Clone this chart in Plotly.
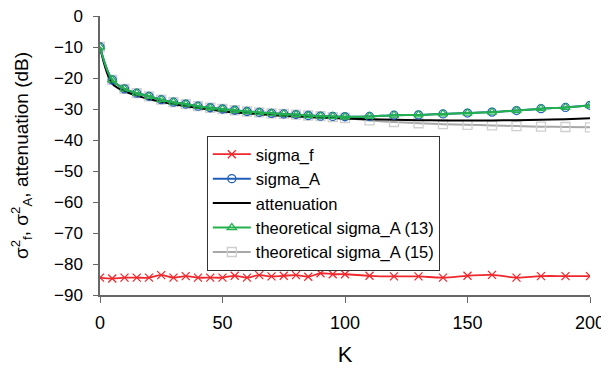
import plotly.graph_objects as go

K = [0, 5, 10, 15, 20, 25, 30, 35, 40, 45, 50, 55, 60, 65, 70, 75, 80, 85, 90, 95, 100,
     110, 120, 130, 140, 150, 160, 170, 180, 190, 200]

sigma_f = [-84.4, -84.7, -84.4, -84.4, -84.4, -83.6, -84.4, -83.9, -84.4, -84.4, -84.4,
           -83.8, -84.4, -83.6, -84.0, -83.8, -83.6, -84.1, -83.0, -83.3, -83.3,
           -83.8, -84.0, -84.0, -84.4, -83.8, -83.5, -84.4, -83.9, -83.9, -83.9]

sigma_A = [-10.0, -20.6, -23.5, -24.9, -25.9, -27.0, -27.8, -28.4, -29.1, -29.6, -30.0,
           -30.4, -30.8, -31.1, -31.4, -31.6, -31.8, -32.1, -32.3, -32.4, -32.5,
           -32.4, -32.0, -31.9, -31.6, -31.3, -31.0, -30.5, -29.9, -29.5, -28.8]

attenuation = [-10.0, -21.8, -24.2, -25.7, -26.8, -27.7, -28.5, -29.1, -29.7, -30.2, -30.7,
               -31.1, -31.4, -31.7, -32.0, -32.2, -32.4, -32.6, -32.8, -32.9, -33.1,
               -33.3, -33.5, -33.6, -33.7, -33.7, -33.7, -33.6, -33.5, -33.3, -33.0]

theo13 = [-10.0, -20.6, -23.5, -24.9, -25.9, -27.0, -27.8, -28.4, -29.1, -29.6, -30.0,
          -30.4, -30.8, -31.1, -31.4, -31.6, -31.8, -32.1, -32.3, -32.4, -32.5,
          -32.4, -32.0, -31.9, -31.6, -31.3, -31.0, -30.5, -29.9, -29.5, -28.9]

theo15 = [-10.0, -20.6, -23.5, -24.9, -25.9, -27.0, -27.8, -28.4, -29.1, -29.6, -30.0,
          -30.4, -30.8, -31.1, -31.4, -31.6, -31.8, -32.1, -32.3, -32.6, -32.9,
          -33.7, -34.2, -34.6, -34.9, -35.1, -35.3, -35.5, -35.7, -35.8, -35.9]

FONT = "Liberation Sans, Arial, sans-serif"

fig = go.Figure()

fig.add_trace(go.Scatter(x=K, y=sigma_f, name="sigma_f", mode="lines+markers",
                         line=dict(color="#f0282d", width=1.8, shape="spline"),
                         marker=dict(symbol="x-thin", size=8, line=dict(color="#f0282d", width=1.3)),
                         legendrank=1))
fig.add_trace(go.Scatter(x=K, y=theo15, name="theoretical sigma_A (15)", mode="lines+markers",
                         line=dict(color="#a8a8a8", width=2, shape="spline"),
                         marker=dict(symbol="square-open", size=9, color="#cfcfcf", line=dict(width=1.3)),
                         legendrank=5))
fig.add_trace(go.Scatter(x=K, y=attenuation, name="attenuation", mode="lines",
                         line=dict(color="#000000", width=2, shape="spline"),
                         legendrank=3))
fig.add_trace(go.Scatter(x=K, y=sigma_A, name="sigma_A", mode="lines+markers",
                         line=dict(color="#1f5fb8", width=2, shape="spline"),
                         marker=dict(symbol="circle-open", size=8, color="#1f5fb8", line=dict(width=1.3)),
                         legendrank=2))
fig.add_trace(go.Scatter(x=K, y=theo13, name="theoretical sigma_A (13)", mode="lines+markers",
                         line=dict(color="#22b14c", width=2, shape="spline"),
                         marker=dict(symbol="triangle-up-open", size=8, color="#22b14c", line=dict(width=1.3)),
                         legendrank=4))

# The page is shown with an 8px body margin, so the figure is sized/offset to compensate.
fig.update_layout(
    width=601, height=359,
    margin=dict(l=92, r=19, t=8, b=72, autoexpand=False),
    paper_bgcolor="white", plot_bgcolor="white",
    font=dict(family=FONT, size=18, color="black"),
    showlegend=True,
    legend=dict(x=0.218, y=0.570, xanchor="left", yanchor="top",
                bordercolor="#333333", borderwidth=1, bgcolor="white",
                font=dict(size=16.5), itemwidth=38, tracegroupgap=0),
    xaxis=dict(range=[0, 200], tickvals=[0, 50, 100, 150, 200], ticks="outside", ticklen=6,
               tickcolor="#666666", showline=True, linecolor="#666666", linewidth=1.5,
               showgrid=False, zeroline=False, automargin=False,
               title=dict(text="K", standoff=15), ticklabelstandoff=5,
               ticklabeloverflow="allow", tickfont=dict(size=18)),
    yaxis=dict(range=[-90, 0], tickvals=[0, -10, -20, -30, -40, -50, -60, -70, -80, -90],
               ticks="outside", ticklen=5, tickcolor="#666666", showline=True,
               linecolor="#666666", linewidth=1.5, showgrid=False, zeroline=False,
               automargin=False, ticklabelstandoff=7, ticklabeloverflow="allow",
               title=dict(text="σ<sup>2</sup><sub>f</sub>, σ<sup>2</sup><sub>A</sub>, attenuation (dB)",
                          standoff=23, font=dict(size=19)),
               tickfont=dict(size=17)),
)

fig.write_html("out.html")
